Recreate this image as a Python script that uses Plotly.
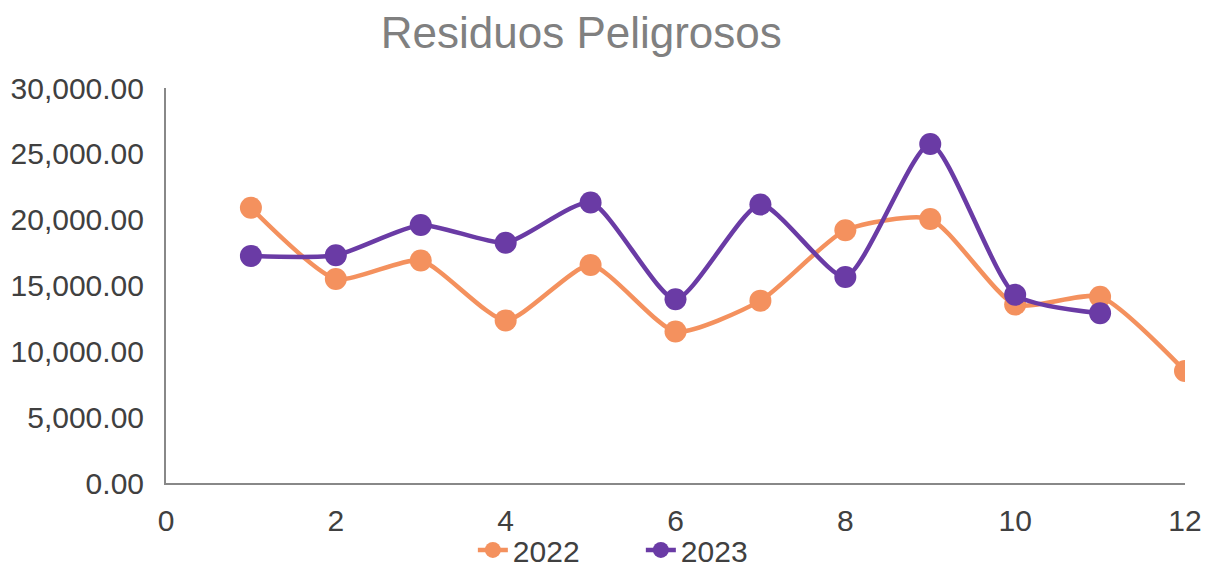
import plotly.graph_objects as go

months = [1, 2, 3, 4, 5, 6, 7, 8, 9, 10, 11, 12]
values_2022 = [20900, 15500, 16900, 12350, 16550, 11500, 13850, 19200, 20050, 13550, 14150, 8500]
months_2023 = [1, 2, 3, 4, 5, 6, 7, 8, 9, 10, 11]
values_2023 = [17250, 17300, 19600, 18250, 21300, 13950, 21150, 15650, 25750, 14300, 12900]

orange = "#F4915E"
purple = "#6A3BA5"

fig = go.Figure()
fig.add_trace(go.Scatter(x=months, y=values_2022, name="2022", mode="lines+markers",
                         line=dict(color=orange, width=4.5, shape="spline", smoothing=0.6),
                         marker=dict(color=orange, size=22)))
fig.add_trace(go.Scatter(x=months_2023, y=values_2023, name="2023", mode="lines+markers",
                         line=dict(color=purple, width=4.5, shape="spline", smoothing=0.6),
                         marker=dict(color=purple, size=22)))

fig.update_layout(
    width=1212, height=571,
    paper_bgcolor="white", plot_bgcolor="white",
    font=dict(family="Liberation Sans, Arial, sans-serif", color="#404040", size=30),
    title=dict(text="Residuos Peligrosos", x=0.473, xanchor="center", y=0.957, yanchor="middle",
               font=dict(size=44, color="#808080")),
    margin=dict(l=158, r=35, t=80, b=96, autoexpand=False),
    showlegend=True,
    legend=dict(orientation="h", x=0.466, xanchor="center", yref="container", y=0.051,
                yanchor="middle", font=dict(size=30, color="#404040"), itemwidth=30,
                bgcolor="rgba(0,0,0,0)",
                entrywidth=123, entrywidthmode="pixels", tracegroupgap=0),
    xaxis=dict(range=[0, 12], tickvals=[0, 2, 4, 6, 8, 10, 12], showgrid=False, zeroline=False,
               automargin=False,
               showline=True, linecolor="#888888", linewidth=2, ticks="", ticklabelstandoff=10),
    yaxis=dict(range=[0, 30000], tickvals=[0, 5000, 10000, 15000, 20000, 25000, 30000],
               tickformat=",.2f", showgrid=False, zeroline=False, automargin=False,
               showline=True, linecolor="#888888", linewidth=2, ticks="", ticklabelstandoff=14),
)

fig.write_html("out.html")
